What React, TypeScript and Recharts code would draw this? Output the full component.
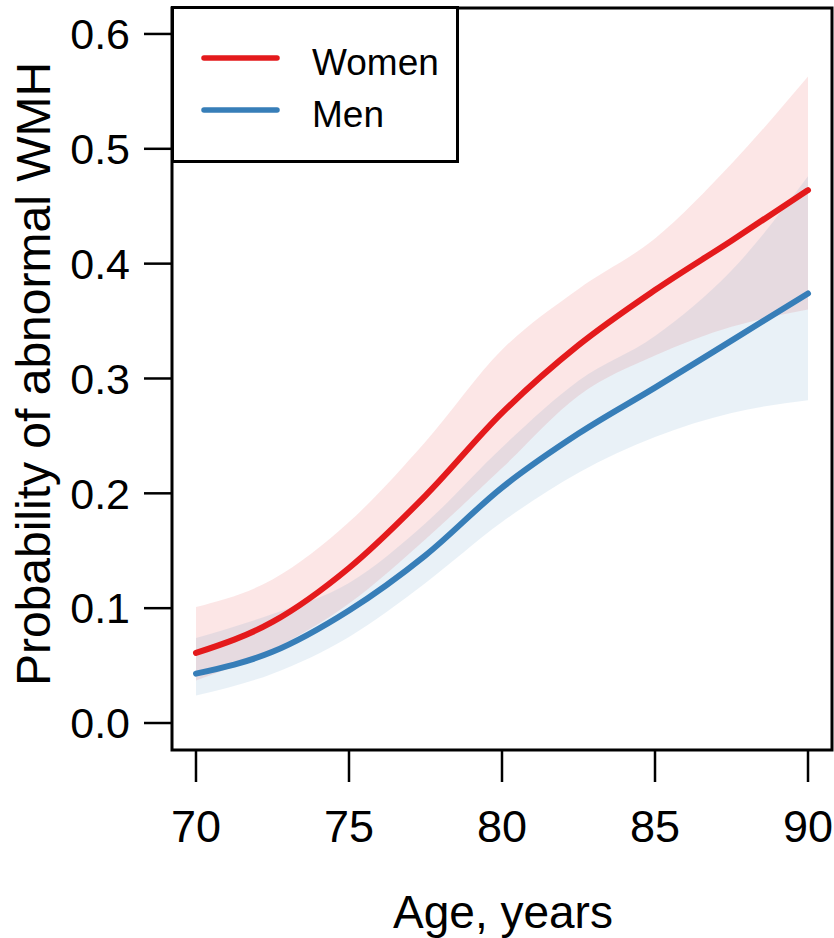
import React from "react";
import {
  ComposedChart,
  Area,
  Line,
  XAxis,
  YAxis,
  ReferenceArea,
} from "recharts";

const ages = [70, 72.5, 75, 77.5, 80, 82.5, 85, 87.5, 90];

const women = [0.061, 0.088, 0.135, 0.198, 0.27, 0.329, 0.377, 0.42, 0.464];
const womenLow = [0.037, 0.064, 0.104, 0.16, 0.222, 0.285, 0.32, 0.345, 0.36];
const womenHigh = [0.101, 0.125, 0.175, 0.245, 0.325, 0.378, 0.422, 0.487, 0.563];

const men = [0.043, 0.062, 0.098, 0.146, 0.205, 0.252, 0.292, 0.333, 0.374];
const menLow = [0.024, 0.043, 0.075, 0.122, 0.175, 0.218, 0.249, 0.27, 0.281];
const menHigh = [0.074, 0.095, 0.122, 0.174, 0.24, 0.298, 0.337, 0.394, 0.476];

const xTicks = [70, 75, 80, 85, 90];
const yTicks = [0, 0.1, 0.2, 0.3, 0.4, 0.5, 0.6];

const X_DOMAIN: [number, number] = [69.216, 90.784];
const Y_DOMAIN: [number, number] = [-0.0235, 0.6226];

const RED = "#E41A1C";
const BLUE = "#377EB8";
const FONT = "'Liberation Sans', Arial, Helvetica, sans-serif";

const data = ages.map((age, i) => ({
  age,
  women: women[i],
  men: men[i],
  womenBand: [womenLow[i], womenHigh[i]],
  menBand: [menLow[i], menHigh[i]],
}));

const legendItems = [
  { name: "Women", color: RED },
  { name: "Men", color: BLUE },
];

function LegendBox() {
  return (
    <svg
      width={288}
      height={157}
      style={{ position: "absolute", left: 171, top: 6, pointerEvents: "none" }}
    >
      <rect x={1.5} y={1.5} width={285} height={154} fill="#fff" stroke="#000" strokeWidth={3} />
      {legendItems.map((it, i) => (
        <g key={it.name}>
          <line
            x1={33}
            x2={106}
            y1={52 + i * 52}
            y2={52 + i * 52}
            stroke={it.color}
            strokeWidth={5.5}
            strokeLinecap="round"
          />
          <text x={141} y={69 + i * 52} fontSize={37} fontFamily={FONT} fill="#000">
            {it.name}
          </text>
        </g>
      ))}
    </svg>
  );
}

export default function App() {
  return (
    <div style={{ position: "absolute", left: 0, top: 0, width: 834, height: 938, background: "#fff" }}>
      <ComposedChart
        width={834}
        height={938}
        data={data}
        margin={{ top: 8, right: 2, left: 0, bottom: 0 }}
      >
        <XAxis
          dataKey="age"
          type="number"
          domain={X_DOMAIN}
          ticks={xTicks}
          allowDataOverflow
          height={188}
          axisLine={false}
          tickSize={32}
          tickMargin={28}
          tickLine={{ stroke: "#000", strokeWidth: 2.5 }}
          tick={{ fill: "#000", fontSize: 45, fontFamily: FONT }}
        />
        <YAxis
          type="number"
          domain={Y_DOMAIN}
          ticks={yTicks}
          allowDataOverflow
          width={172}
          axisLine={false}
          tickSize={28}
          tickMargin={14}
          tickLine={{ stroke: "#000", strokeWidth: 2.5 }}
          tick={{ fill: "#000", fontSize: 43, fontFamily: FONT }}
          tickFormatter={(v: number) => v.toFixed(1)}
        />
        <Area
          type="monotone"
          dataKey="womenBand"
          stroke="none"
          fill={RED}
          fillOpacity={0.11}
          isAnimationActive={false}
        />
        <Area
          type="monotone"
          dataKey="menBand"
          stroke="none"
          fill={BLUE}
          fillOpacity={0.11}
          isAnimationActive={false}
        />
        <Line
          type="monotone"
          dataKey="women"
          name="Women"
          stroke={RED}
          strokeWidth={6}
          strokeLinecap="round"
          dot={false}
          isAnimationActive={false}
        />
        <Line
          type="monotone"
          dataKey="men"
          name="Men"
          stroke={BLUE}
          strokeWidth={6}
          strokeLinecap="round"
          dot={false}
          isAnimationActive={false}
        />
        <ReferenceArea
          x1={X_DOMAIN[0]}
          x2={X_DOMAIN[1]}
          y1={Y_DOMAIN[0]}
          y2={Y_DOMAIN[1]}
          fill="none"
          stroke="#000"
          strokeWidth={3}
          ifOverflow="visible"
        />
      </ComposedChart>
      <LegendBox />
      <svg
        width={834}
        height={938}
        style={{ position: "absolute", left: 0, top: 0, pointerEvents: "none" }}
      >
        <text x={503} y={928} textAnchor="middle" fontSize={46} fontFamily={FONT} fill="#000">
          Age, years
        </text>
        <text
          x={50}
          y={374}
          textAnchor="middle"
          fontSize={48}
          fontFamily={FONT}
          fill="#000"
          transform="rotate(-90 50 374)"
        >
          Probability of abnormal WMH
        </text>
      </svg>
    </div>
  );
}
